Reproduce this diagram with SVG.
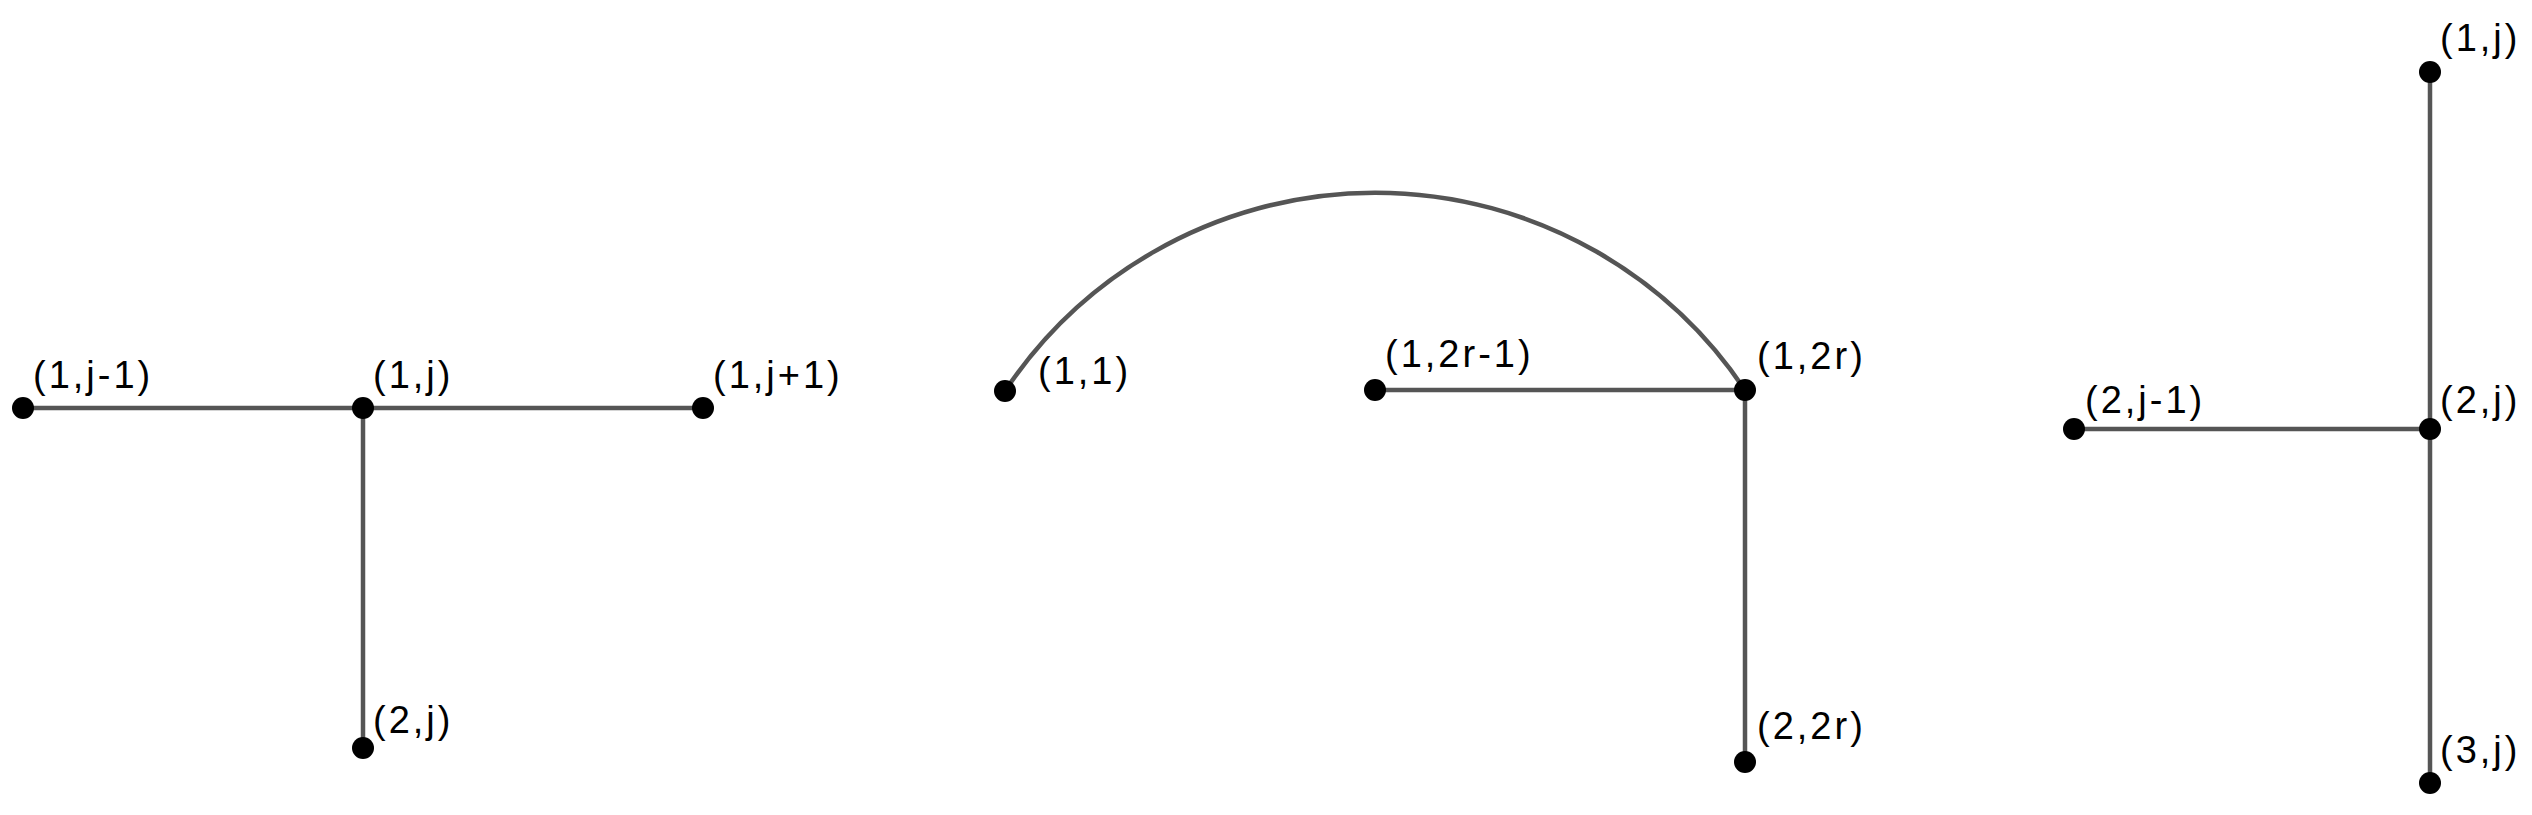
<svg xmlns="http://www.w3.org/2000/svg" width="2532" height="815" viewBox="0 0 2532 815">
<style>
.e{stroke:#555;stroke-width:4.5;fill:none}
.d{fill:#000}
text{font-family:"Liberation Sans",Arial,sans-serif;font-size:38px;fill:#000;letter-spacing:3px}
</style>
<rect width="2532" height="815" fill="#fff"/>
<g id="connectors">
<line class="e" x1="23" y1="408" x2="703" y2="408"/>
<line class="e" x1="363" y1="408" x2="363" y2="748"/>
<path class="e" d="M1005 391 A445 445 0 0 1 1745 390"/>
<line class="e" x1="1375" y1="390" x2="1745" y2="390"/>
<line class="e" x1="1745" y1="390" x2="1745" y2="762"/>
<line class="e" x1="2074" y1="429" x2="2430" y2="429"/>
<line class="e" x1="2430" y1="72" x2="2430" y2="783"/>
</g>
<g id="n1"><circle class="d" cx="23" cy="408" r="11"/><text x="33" y="388">(1,j-1)</text></g>
<g id="n2"><circle class="d" cx="363" cy="408" r="11"/><text x="373" y="388">(1,j)</text></g>
<g id="n3"><circle class="d" cx="703" cy="408" r="11"/><text x="713" y="388">(1,j+1)</text></g>
<g id="n4"><circle class="d" cx="363" cy="748" r="11"/><text x="373" y="733">(2,j)</text></g>
<g id="n5"><circle class="d" cx="1005" cy="391" r="11"/><text x="1038" y="384">(1,1)</text></g>
<g id="n6"><circle class="d" cx="1375" cy="390" r="11"/><text x="1385" y="367">(1,2r-1)</text></g>
<g id="n7"><circle class="d" cx="1745" cy="390" r="11"/><text x="1757" y="369">(1,2r)</text></g>
<g id="n8"><circle class="d" cx="1745" cy="762" r="11"/><text x="1757" y="739">(2,2r)</text></g>
<g id="n9"><circle class="d" cx="2074" cy="429" r="11"/><text x="2085" y="413">(2,j-1)</text></g>
<g id="n10"><circle class="d" cx="2430" cy="429" r="11"/><text x="2440" y="413">(2,j)</text></g>
<g id="n11"><circle class="d" cx="2430" cy="72" r="11"/><text x="2440" y="51">(1,j)</text></g>
<g id="n12"><circle class="d" cx="2430" cy="783" r="11"/><text x="2440" y="763">(3,j)</text></g>
</svg>
